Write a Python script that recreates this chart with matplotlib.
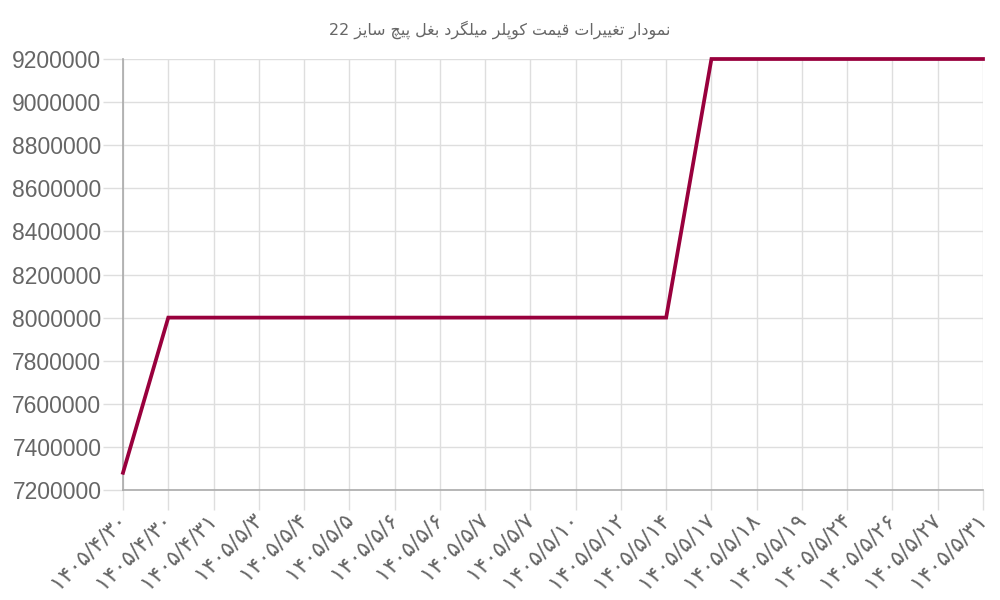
import matplotlib
matplotlib.use('Agg')
import matplotlib.pyplot as plt

dates = ["۱۴۰۵/۴/۳۰", "۱۴۰۵/۴/۳۰", "۱۴۰۵/۴/۳۱", "۱۴۰۵/۵/۳", "۱۴۰۵/۵/۴",
         "۱۴۰۵/۵/۵", "۱۴۰۵/۵/۶", "۱۴۰۵/۵/۶", "۱۴۰۵/۵/۷", "۱۴۰۵/۵/۷",
         "۱۴۰۵/۵/۱۰", "۱۴۰۵/۵/۱۲", "۱۴۰۵/۵/۱۴", "۱۴۰۵/۵/۱۷", "۱۴۰۵/۵/۱۸",
         "۱۴۰۵/۵/۱۹", "۱۴۰۵/۵/۲۴", "۱۴۰۵/۵/۲۶", "۱۴۰۵/۵/۲۷", "۱۴۰۵/۵/۳۱"]
prices = [7280000, 8000000, 8000000, 8000000, 8000000,
          8000000, 8000000, 8000000, 8000000, 8000000,
          8000000, 8000000, 8000000, 9200000, 9200000,
          9200000, 9200000, 9200000, 9200000, 9200000]
y_ticks = [7200000, 7400000, 7600000, 7800000, 8000000, 8200000,
           8400000, 8600000, 8800000, 9000000, 9200000]
title_text = "نمودار تغییرات قیمت کوپلر میلگرد بغل پیچ سایز 22"

# --- minimal Arabic/Persian shaping (iso, fin, init, med) ---
FORMS = {
    'ا': (0xFE8D, 0xFE8E, None, None),
    'ب': (0xFE8F, 0xFE90, 0xFE91, 0xFE92),
    'پ': (0xFB56, 0xFB57, 0xFB58, 0xFB59),
    'ت': (0xFE95, 0xFE96, 0xFE97, 0xFE98),
    'چ': (0xFB7A, 0xFB7B, 0xFB7C, 0xFB7D),
    'د': (0xFEA9, 0xFEAA, None, None),
    'ر': (0xFEAD, 0xFEAE, None, None),
    'ز': (0xFEAF, 0xFEB0, None, None),
    'س': (0xFEB1, 0xFEB2, 0xFEB3, 0xFEB4),
    'غ': (0xFECD, 0xFECE, 0xFECF, 0xFED0),
    'ق': (0xFED5, 0xFED6, 0xFED7, 0xFED8),
    'ک': (0xFB8E, 0xFB8F, 0xFB90, 0xFB91),
    'گ': (0xFB92, 0xFB93, 0xFB94, 0xFB95),
    'ل': (0xFEDD, 0xFEDE, 0xFEDF, 0xFEE0),
    'م': (0xFEE1, 0xFEE2, 0xFEE3, 0xFEE4),
    'ن': (0xFEE5, 0xFEE6, 0xFEE7, 0xFEE8),
    'و': (0xFEED, 0xFEEE, None, None),
    'ی': (0xFBFC, 0xFBFD, 0xFBFE, 0xFBFF),
}


def shape_word(w):
    out = []
    n = len(w)
    for i, c in enumerate(w):
        if c not in FORMS:
            out.append(c)
            continue
        prev = w[i - 1] if i > 0 else None
        nxt = w[i + 1] if i < n - 1 else None
        join_prev = prev in FORMS and FORMS[prev][2] is not None
        join_next = FORMS[c][2] is not None and nxt in FORMS
        iso, fin, ini, med = FORMS[c]
        if join_prev and join_next:
            out.append(chr(med))
        elif join_prev:
            out.append(chr(fin))
        elif join_next:
            out.append(chr(ini))
        else:
            out.append(chr(iso))
    return ''.join(out)


def visual_rtl(text):
    words = text.split(' ')
    vis = []
    for w in reversed(words):
        if any(ch in FORMS for ch in w):
            vis.append(shape_word(w)[::-1])
        else:
            vis.append(w)
    return ' '.join(vis)


fig = plt.figure(figsize=(10, 6), dpi=100)
ax = fig.add_axes([0.123, 1 - 490 / 600, 0.86, (490 - 59) / 600])

x = list(range(len(dates)))
ax.plot(x, prices, color='#99003d', lw=2.7, clip_on=False, zorder=5,
        solid_joinstyle='miter')

ax.set_xlim(0, len(dates) - 1)
ax.set_ylim(y_ticks[0], y_ticks[-1])
ax.set_yticks(y_ticks)
ax.set_yticklabels([str(v) for v in y_ticks], fontsize=16.5,
                   family=['Liberation Sans', 'DejaVu Sans'], color='#666666')
ax.set_xticks(x)
ax.set_xticklabels(dates, rotation=45, ha='right', va='center',
                   rotation_mode='anchor', fontsize=16,
                   family=['DejaVu Sans'], color='#666666')

ax.grid(True, color='#dedede', lw=1)
ax.tick_params(axis='both', length=14.5, width=1, color='#dedede')
ax.tick_params(axis='y', pad=1)
ax.tick_params(axis='x', pad=4)
for s in ['top', 'right']:
    ax.spines[s].set_visible(False)
for s in ['left', 'bottom']:
    ax.spines[s].set_color('#aaaaaa')
    ax.spines[s].set_linewidth(1.2)
ax.set_axisbelow(True)

fig.text(0.5, 1 - 30 / 600, visual_rtl(title_text), ha='center', va='center',
         fontsize=11.4, color='#666666', family=['DejaVu Sans'])

fig.savefig('out.png', dpi=100, facecolor='white')
